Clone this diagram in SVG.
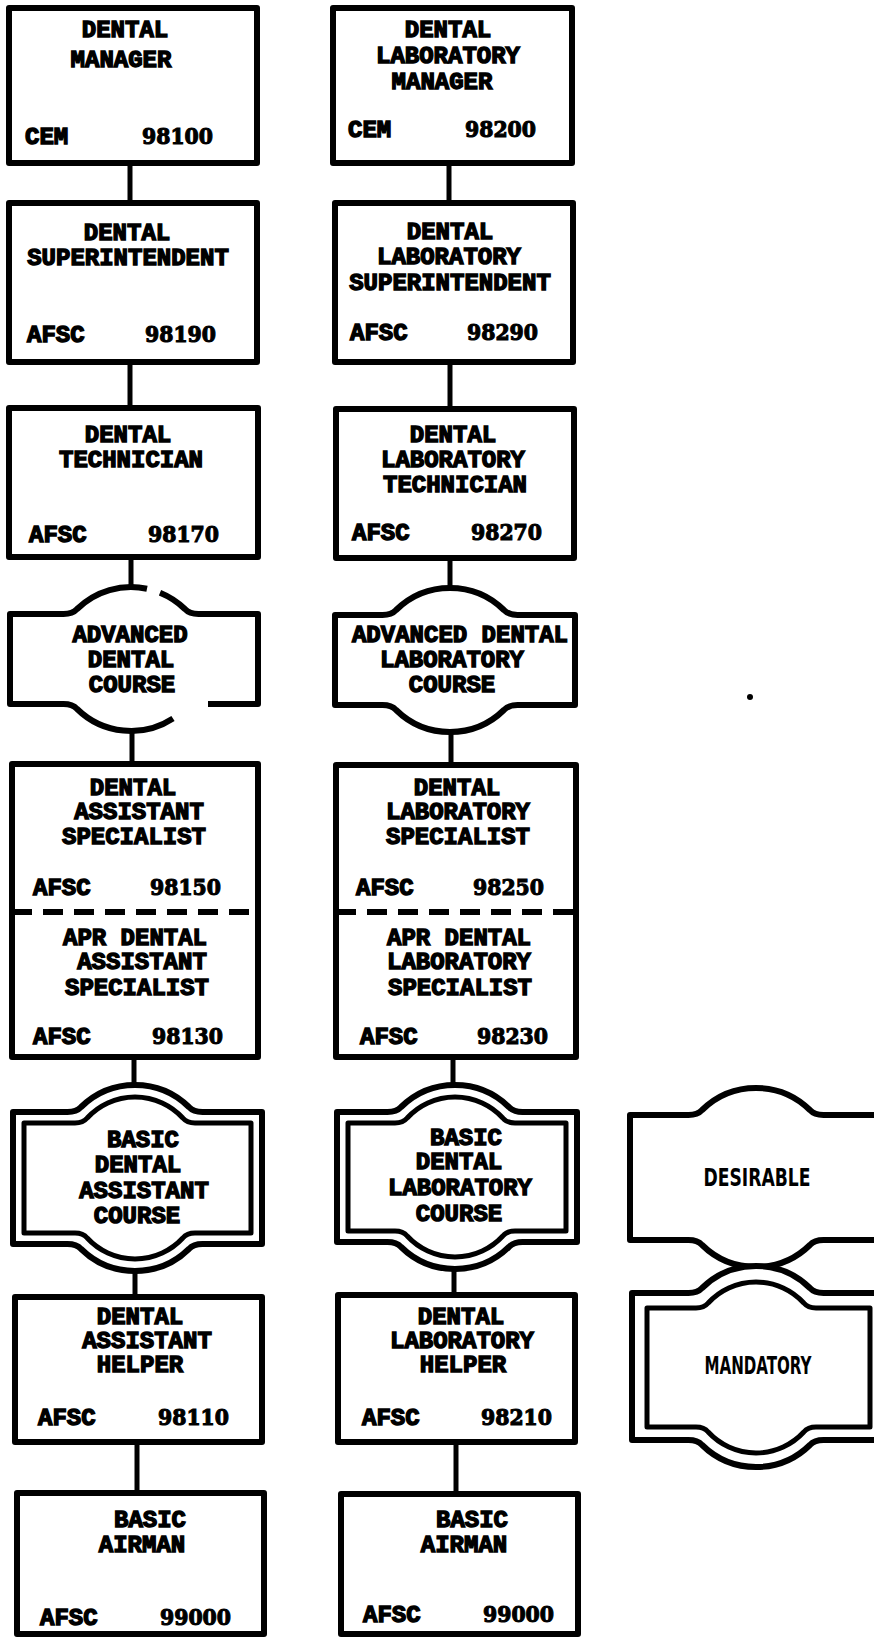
<svg xmlns="http://www.w3.org/2000/svg" width="874" height="1638" viewBox="0 0 874 1638">
<style>
.box{fill:#fff;stroke:#000;stroke-width:6;stroke-linejoin:round}
.sh{fill:#fff;stroke:#000;stroke-width:6;stroke-linejoin:round}
.in{fill:none;stroke:#000;stroke-width:5;stroke-linejoin:round}
.pc{fill:none;stroke:#000;stroke-width:6;stroke-linejoin:round}
.ln{stroke:#000;stroke-width:5;fill:none}
.dash{stroke:#000;stroke-width:6;stroke-dasharray:20 11;fill:none}
.t{font-family:"Liberation Mono","Courier New",monospace;font-weight:bold;font-size:24px;fill:#000;stroke:#000;stroke-width:1.4;text-anchor:middle}
.l{text-anchor:start}
.n{font-family:"DejaVu Serif","Liberation Serif",serif;font-weight:bold;font-size:22px;fill:#000;stroke:#000;stroke-width:1.1;text-anchor:start}
.lg{font-family:"DejaVu Sans Condensed","DejaVu Sans",sans-serif;font-weight:bold;font-size:24px;fill:#000;text-anchor:middle}
</style>
<rect width="874" height="1638" fill="#fff"/>
<g id="connectors">
<line class="ln" x1="130" y1="163" x2="130" y2="203"/>
<line class="ln" x1="130" y1="362" x2="130" y2="408"/>
<line class="ln" x1="131" y1="557" x2="131" y2="588"/>
<line class="ln" x1="132" y1="730" x2="132" y2="764"/>
<line class="ln" x1="134" y1="1057" x2="134" y2="1085"/>
<line class="ln" x1="135" y1="1270" x2="135" y2="1297"/>
<line class="ln" x1="137" y1="1442" x2="137" y2="1493"/>
<line class="ln" x1="449" y1="163" x2="449" y2="203"/>
<line class="ln" x1="450" y1="362" x2="450" y2="409"/>
<line class="ln" x1="450" y1="558" x2="450" y2="588"/>
<line class="ln" x1="451" y1="727" x2="451" y2="765"/>
<line class="ln" x1="453" y1="1057" x2="453" y2="1085"/>
<line class="ln" x1="454" y1="1268" x2="454" y2="1295"/>
<line class="ln" x1="456" y1="1442" x2="456" y2="1494"/>
</g>

<g id="dental-manager">
<rect class="box" x="9" y="8" width="248" height="155"/>
<text class="t" x="125" y="37">DENTAL</text>
<text class="t" x="121" y="67">MANAGER</text>
<text class="t l" x="25" y="144">CEM</text>
<text class="n" x="142" y="144" textLength="71" lengthAdjust="spacingAndGlyphs">98100</text>
</g>
<g id="dental-superintendent">
<rect class="box" x="9" y="203" width="248" height="159"/>
<text class="t" x="127" y="240">DENTAL</text>
<text class="t" x="128" y="265">SUPERINTENDENT</text>
<text class="t l" x="27" y="342">AFSC</text>
<text class="n" x="145" y="342" textLength="71" lengthAdjust="spacingAndGlyphs">98190</text>
</g>
<g id="dental-technician">
<rect class="box" x="9" y="408" width="249" height="149"/>
<text class="t" x="128" y="442">DENTAL</text>
<text class="t" x="131" y="467">TECHNICIAN</text>
<text class="t l" x="29" y="542">AFSC</text>
<text class="n" x="148" y="542" textLength="71" lengthAdjust="spacingAndGlyphs">98170</text>
</g>
<g id="advanced-dental-course">
<path class="pc" d="M147,588.7 A77,77 0 0 0 77.1,609 Q72.5,614 63.5,614 L10,614 L10,704 L63.5,704 Q72.5,704 77.1,709 A77,77 0 0 0 173,718.5"/>
<path class="pc" d="M160,592.7 A77,77 0 0 1 184.9,609 Q189.5,614 198.5,614 L258,614 L258,704 L208,704"/>
<text class="t" x="130" y="642">ADVANCED</text>
<text class="t" x="131" y="667">DENTAL</text>
<text class="t" x="132" y="692">COURSE</text>
</g>
<g id="dental-assistant-specialist">
<rect class="box" x="12" y="764" width="246" height="293"/>
<line class="dash" x1="12" y1="912" x2="258" y2="912"/>
<text class="t" x="133" y="795">DENTAL</text>
<text class="t" x="139" y="819">ASSISTANT</text>
<text class="t" x="134" y="844">SPECIALIST</text>
<text class="t l" x="33" y="895">AFSC</text>
<text class="n" x="150" y="895" textLength="71" lengthAdjust="spacingAndGlyphs">98150</text>
<text class="t" x="135" y="945">APR DENTAL</text>
<text class="t" x="142" y="969">ASSISTANT</text>
<text class="t" x="137" y="995">SPECIALIST</text>
<text class="t l" x="33" y="1044">AFSC</text>
<text class="n" x="152" y="1044" textLength="71" lengthAdjust="spacingAndGlyphs">98130</text>
</g>
<g id="basic-dental-assistant-course">
<path class="sh" d="M13,1112 L67.5,1112 Q76.5,1112 81.1,1107 A77,77 0 0 1 188.9,1107 Q193.5,1112 202.5,1112 L262,1112 L262,1244 L202.5,1244 Q193.5,1244 188.9,1249 A77,77 0 0 1 81.1,1249 Q76.5,1244 67.5,1244 L13,1244 Z"/>
<path class="in" d="M24,1123 L75,1123 Q83,1123 87.2,1118 A65,65 0 0 1 182.8,1118 Q187,1123 195,1123 L251,1123 L251,1233 L195,1233 Q187,1233 182.8,1238 A65,65 0 0 1 87.2,1238 Q83,1233 75,1233 L24,1233 Z"/>
<text class="t" x="143" y="1147">BASIC</text>
<text class="t" x="138" y="1172">DENTAL</text>
<text class="t" x="144" y="1198">ASSISTANT</text>
<text class="t" x="137" y="1223">COURSE</text>
</g>
<g id="dental-assistant-helper">
<rect class="box" x="15" y="1297" width="247" height="145"/>
<text class="t" x="140" y="1324">DENTAL</text>
<text class="t" x="147" y="1348">ASSISTANT</text>
<text class="t" x="140" y="1372">HELPER</text>
<text class="t l" x="38" y="1425">AFSC</text>
<text class="n" x="158" y="1425" textLength="71" lengthAdjust="spacingAndGlyphs">98110</text>
</g>
<g id="basic-airman-left">
<rect class="box" x="17" y="1493" width="247" height="141"/>
<text class="t" x="150" y="1527">BASIC</text>
<text class="t" x="142" y="1552">AIRMAN</text>
<text class="t l" x="40" y="1625">AFSC</text>
<text class="n" x="160" y="1625" textLength="71" lengthAdjust="spacingAndGlyphs">99000</text>
</g>

<g id="dental-laboratory-manager">
<rect class="box" x="333" y="8" width="239" height="155"/>
<text class="t" x="448" y="37">DENTAL</text>
<text class="t" x="448" y="63">LABORATORY</text>
<text class="t" x="442" y="89">MANAGER</text>
<text class="t l" x="348" y="137">CEM</text>
<text class="n" x="465" y="137" textLength="71" lengthAdjust="spacingAndGlyphs">98200</text>
</g>
<g id="dental-laboratory-superintendent">
<rect class="box" x="335" y="203" width="238" height="159"/>
<text class="t" x="450" y="239">DENTAL</text>
<text class="t" x="449" y="264">LABORATORY</text>
<text class="t" x="450" y="290">SUPERINTENDENT</text>
<text class="t l" x="350" y="340">AFSC</text>
<text class="n" x="467" y="340" textLength="71" lengthAdjust="spacingAndGlyphs">98290</text>
</g>
<g id="dental-laboratory-technician">
<rect class="box" x="336" y="409" width="238" height="149"/>
<text class="t" x="453" y="442">DENTAL</text>
<text class="t" x="453" y="467">LABORATORY</text>
<text class="t" x="455" y="492">TECHNICIAN</text>
<text class="t l" x="352" y="540">AFSC</text>
<text class="n" x="471" y="540" textLength="71" lengthAdjust="spacingAndGlyphs">98270</text>
</g>
<g id="advanced-dental-laboratory-course">
<path class="sh" d="M335,615 L382.5,615 Q391.5,615 396.1,610 A77,77 0 0 1 503.9,610 Q508.5,615 517.5,615 L575,615 L575,705 L517.5,705 Q508.5,705 503.9,710 A77,77 0 0 1 396.1,710 Q391.5,705 382.5,705 L335,705 Z"/>
<text class="t" x="460" y="642">ADVANCED DENTAL</text>
<text class="t" x="452" y="667">LABORATORY</text>
<text class="t" x="452" y="692">COURSE</text>
</g>
<g id="dental-laboratory-specialist">
<rect class="box" x="336" y="765" width="240" height="292"/>
<line class="dash" x1="336" y1="912" x2="582" y2="912"/>
<text class="t" x="457" y="795">DENTAL</text>
<text class="t" x="458" y="819">LABORATORY</text>
<text class="t" x="458" y="844">SPECIALIST</text>
<text class="t l" x="356" y="895">AFSC</text>
<text class="n" x="473" y="895" textLength="71" lengthAdjust="spacingAndGlyphs">98250</text>
<text class="t" x="459" y="945">APR DENTAL</text>
<text class="t" x="459" y="969">LABORATORY</text>
<text class="t" x="460" y="995">SPECIALIST</text>
<text class="t l" x="360" y="1044">AFSC</text>
<text class="n" x="477" y="1044" textLength="71" lengthAdjust="spacingAndGlyphs">98230</text>
</g>
<g id="basic-dental-laboratory-course">
<path class="sh" d="M337,1112 L387.5,1112 Q396.5,1112 401.1,1107 A77,77 0 0 1 508.9,1107 Q513.5,1112 522.5,1112 L577,1112 L577,1242 L522.5,1242 Q513.5,1242 508.9,1247 A77,77 0 0 1 401.1,1247 Q396.5,1242 387.5,1242 L337,1242 Z"/>
<path class="in" d="M348,1123 L395,1123 Q403,1123 407.2,1118 A65,65 0 0 1 502.8,1118 Q507,1123 515,1123 L566,1123 L566,1231 L515,1231 Q507,1231 502.8,1236 A65,65 0 0 1 407.2,1236 Q403,1231 395,1231 L348,1231 Z"/>
<text class="t" x="466" y="1145">BASIC</text>
<text class="t" x="459" y="1169">DENTAL</text>
<text class="t" x="460" y="1195">LABORATORY</text>
<text class="t" x="459" y="1221">COURSE</text>
</g>
<g id="dental-laboratory-helper">
<rect class="box" x="338" y="1295" width="237" height="147"/>
<text class="t" x="461" y="1324">DENTAL</text>
<text class="t" x="462" y="1348">LABORATORY</text>
<text class="t" x="463" y="1372">HELPER</text>
<text class="t l" x="362" y="1425">AFSC</text>
<text class="n" x="481" y="1425" textLength="71" lengthAdjust="spacingAndGlyphs">98210</text>
</g>
<g id="basic-airman-right">
<rect class="box" x="341" y="1494" width="237" height="140"/>
<text class="t" x="472" y="1527">BASIC</text>
<text class="t" x="464" y="1552">AIRMAN</text>
<text class="t l" x="363" y="1622">AFSC</text>
<text class="n" x="483" y="1622" textLength="71" lengthAdjust="spacingAndGlyphs">99000</text>
</g>

<g id="legend-desirable">
<path class="sh" d="M630,1115 L688.5,1115 Q697.5,1115 702.1,1110 A77,77 0 0 1 809.9,1110 Q814.5,1115 823.5,1115 L890,1115 L890,1240 L823.5,1240 Q814.5,1240 809.9,1245 A77,77 0 0 1 702.1,1245 Q697.5,1240 688.5,1240 L630,1240 Z"/>
<text class="lg" x="757" y="1186" textLength="107" lengthAdjust="spacingAndGlyphs">DESIRABLE</text>
</g>
<g id="legend-mandatory">
<path class="sh" d="M632,1293 L688.5,1293 Q697.5,1293 702.1,1288 A77,77 0 0 1 809.9,1288 Q814.5,1293 823.5,1293 L890,1293 L890,1440 L823.5,1440 Q814.5,1440 809.9,1445 A77,77 0 0 1 702.1,1445 Q697.5,1440 688.5,1440 L632,1440 Z"/>
<path class="in" d="M647,1308 L696,1308 Q704,1308 708.2,1303 A65,65 0 0 1 803.8,1303 Q808,1308 816,1308 L870,1308 L870,1427 L816,1427 Q808,1427 803.8,1432 A65,65 0 0 1 708.2,1432 Q704,1427 696,1427 L647,1427 Z"/>
<text class="lg" x="758" y="1374" textLength="107" lengthAdjust="spacingAndGlyphs">MANDATORY</text>
</g>
<circle cx="750" cy="697" r="3" fill="#000"/>
</svg>
